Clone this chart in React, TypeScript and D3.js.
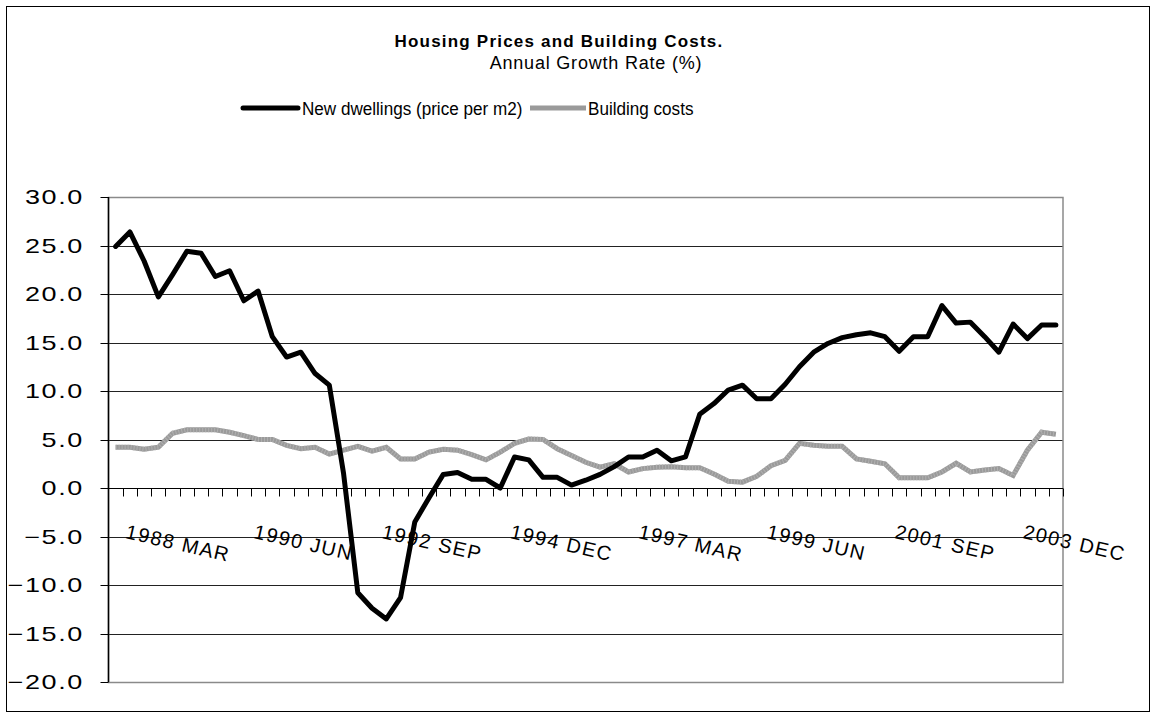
import React, { useEffect, useRef } from 'react';
import * as d3 from 'd3';

// quarterly annual growth rates, 1988 MAR .. 2004 SEP
const quarters = ['MAR', 'JUN', 'SEP', 'DEC'];
const firstYear = 1988;
const pointCount = 67;
const categories: string[] = d3.range(pointCount).map(i => `${firstYear + Math.floor(i / 4)} ${quarters[i % 4]}`);

const tickLabels = ['1988 MAR', '1990 JUN', '1992 SEP', '1994 DEC', '1997 MAR', '1999 JUN', '2001 SEP', '2003 DEC'];

const newDwellings = [
  24.9, 26.4, 23.4, 19.7, 22.0, 24.4, 24.2, 21.8, 22.4, 19.3, 20.3, 15.6, 13.5, 14.0, 11.8, 10.6,
  1.5, -10.8, -12.4, -13.5, -11.3, -3.5, -1.0,
  1.4, 1.6, 0.9, 0.9, 0.0, 3.2, 2.9, 1.1, 1.1, 0.3,
  0.8, 1.4, 2.2, 3.2, 3.2, 3.9, 2.8, 3.2, 7.6, 8.7, 10.1, 10.6, 9.2, 9.2, 10.7, 12.5,
  14.0, 14.9, 15.5, 15.8, 16.0, 15.6, 14.1, 15.6, 15.6, 18.8, 17.0, 17.1, 15.6, 14.0, 16.9, 15.4, 16.8, 16.8
];

const buildingCosts = [
  4.2, 4.2, 4.0, 4.2, 5.65, 6.0, 6.0, 6.0, 5.75, 5.4, 5.0, 5.0, 4.4, 4.05, 4.2, 3.5,
  3.9, 4.3, 3.8, 4.2, 3.0, 3.0, 3.7, 4.0, 3.9, 3.45, 2.9, 3.7, 4.6, 5.05, 5.0, 4.05, 3.35,
  2.65, 2.15, 2.5, 1.65, 2.0, 2.15, 2.2, 2.1, 2.1, 1.45, 0.7, 0.6, 1.2, 2.3, 2.85, 4.6,
  4.4, 4.3, 4.3, 3.0, 2.75, 2.5, 1.05, 1.05, 1.05, 1.65, 2.55, 1.65, 1.85, 2.0, 1.3, 3.9, 5.75, 5.55
];

const yTicks = [30, 25, 20, 15, 10, 5, 0, -5, -10, -15, -20];

const seriesNames = ['New dwellings (price per m2)', 'Building costs'];

const W = 1157;
const H = 718;
const plot = { left: 108.5, right: 1063, top: 197, bottom: 682 };
const font = '"Liberation Sans", Arial, sans-serif';

function App() {
  const svgRef = useRef<SVGSVGElement>(null);

  useEffect(() => {
    if (!svgRef.current) return;
    const svg = d3.select(svgRef.current);
    svg.selectAll('*').remove();

    const x = d3.scaleBand<string>().domain(categories).range([plot.left, plot.right]).padding(0);
    const y = d3.scaleLinear().domain([-20, 30]).range([plot.bottom, plot.top]);
    const cx = (i: number) => (x(categories[i]) as number) + x.bandwidth() / 2;

    // outer frame
    svg.append('rect')
      .attr('x', 6.5).attr('y', 6.5)
      .attr('width', 1143).attr('height', 705)
      .attr('fill', 'white').attr('stroke', '#000').attr('stroke-width', 1);

    // title
    svg.append('text')
      .attr('x', 559).attr('y', 47)
      .attr('text-anchor', 'middle')
      .attr('font-family', font).attr('font-size', 17).attr('font-weight', 'bold')
      .attr('letter-spacing', 1.2)
      .text('Housing Prices and Building Costs.');
    svg.append('text')
      .attr('x', 596).attr('y', 69)
      .attr('text-anchor', 'middle')
      .attr('font-family', font).attr('font-size', 18)
      .attr('letter-spacing', 0.8)
      .text('Annual Growth Rate (%)');

    // legend (narrow, tall type like the original)
    const lg = svg.append('g').attr('font-family', font).attr('font-size', 19);
    lg.append('line').attr('x1', 243).attr('x2', 298).attr('y1', 108).attr('y2', 108)
      .attr('stroke', '#000').attr('stroke-width', 5).attr('stroke-linecap', 'round');
    lg.append('text').attr('transform', 'translate(302,115) scale(0.9,1)').text(seriesNames[0]);
    lg.append('line').attr('x1', 530).attr('x2', 586).attr('y1', 108).attr('y2', 108)
      .attr('stroke', '#9a9a9a').attr('stroke-width', 5);
    lg.append('text').attr('transform', 'translate(588,115) scale(0.9,1)').text(seriesNames[1]);

    // gridlines
    const grid = svg.append('g');
    grid.selectAll('line')
      .data(yTicks.filter(t => t !== 30 && t !== -20 && t !== 0))
      .join('line')
      .attr('x1', plot.left).attr('x2', plot.right)
      .attr('y1', d => Math.round(y(d)) + 0.5).attr('y2', d => Math.round(y(d)) + 0.5)
      .attr('stroke', '#222').attr('stroke-width', 1);

    // plot border (grey)
    svg.append('rect')
      .attr('x', plot.left).attr('y', Math.round(plot.top) + 0.5)
      .attr('width', plot.right - plot.left).attr('height', plot.bottom - plot.top)
      .attr('fill', 'none').attr('stroke', '#8a8a8a').attr('stroke-width', 1.5);

    // y axis
    const yAxis = svg.append('g').attr('font-family', font).attr('font-size', 20);
    yAxis.append('line')
      .attr('x1', plot.left).attr('x2', plot.left)
      .attr('y1', plot.top).attr('y2', plot.bottom)
      .attr('stroke', '#000').attr('stroke-width', 1.5);
    yAxis.selectAll('line.tick')
      .data(yTicks)
      .join('line')
      .attr('class', 'tick')
      .attr('x1', plot.left - 8).attr('x2', plot.left)
      .attr('y1', d => Math.round(y(d)) + 0.5).attr('y2', d => Math.round(y(d)) + 0.5)
      .attr('stroke', '#000');
    yAxis.selectAll('text')
      .data(yTicks)
      .join('text')
      .attr('transform', d => `translate(84,${y(d) + 7}) scale(1.35,1)`)
      .attr('text-anchor', 'end')
      .attr('letter-spacing', 1.2)
      .text(d => d3.format('.1f')(d));

    // x axis at zero
    const y0 = Math.round(y(0)) + 0.5;
    const xAxis = svg.append('g');
    xAxis.append('line')
      .attr('x1', plot.left).attr('x2', plot.right)
      .attr('y1', y0).attr('y2', y0)
      .attr('stroke', '#000').attr('stroke-width', 1.2);
    xAxis.selectAll('line.tick')
      .data(d3.range(1, pointCount + 1))
      .join('line')
      .attr('class', 'tick')
      .attr('x1', i => Math.round(plot.left + i * x.bandwidth()) + 0.5)
      .attr('x2', i => Math.round(plot.left + i * x.bandwidth()) + 0.5)
      .attr('y1', y0).attr('y2', y0 + 8)
      .attr('stroke', '#000');
    xAxis.selectAll('text')
      .data(tickLabels)
      .join('text')
      .attr('transform', d => `translate(${cx(categories.indexOf(d)) + 9},538) rotate(13)`)
      .attr('font-family', font).attr('font-size', 20)
      .attr('letter-spacing', 1.5)
      .text(d => d);

    // series
    const line = d3.line<number>()
      .x((_, i) => cx(i))
      .y(d => y(d));

    svg.append('path')
      .datum(buildingCosts)
      .attr('d', line)
      .attr('fill', 'none').attr('stroke', '#9a9a9a').attr('stroke-width', 5)
      .attr('stroke-linejoin', 'miter');
    svg.append('path')
      .datum(buildingCosts)
      .attr('d', line)
      .attr('fill', 'none').attr('stroke', '#b0b0b0').attr('stroke-width', 5)
      .attr('stroke-dasharray', '1 2');

    svg.append('path')
      .datum(newDwellings)
      .attr('d', line)
      .attr('fill', 'none').attr('stroke', '#000').attr('stroke-width', 5)
      .attr('stroke-linejoin', 'round').attr('stroke-linecap', 'round');
  });

  return (
    <svg
      ref={svgRef}
      width={W}
      height={H}
      style={{ position: 'absolute', left: 0, top: 0, background: 'white' }}
    />
  );
}

export default App;
